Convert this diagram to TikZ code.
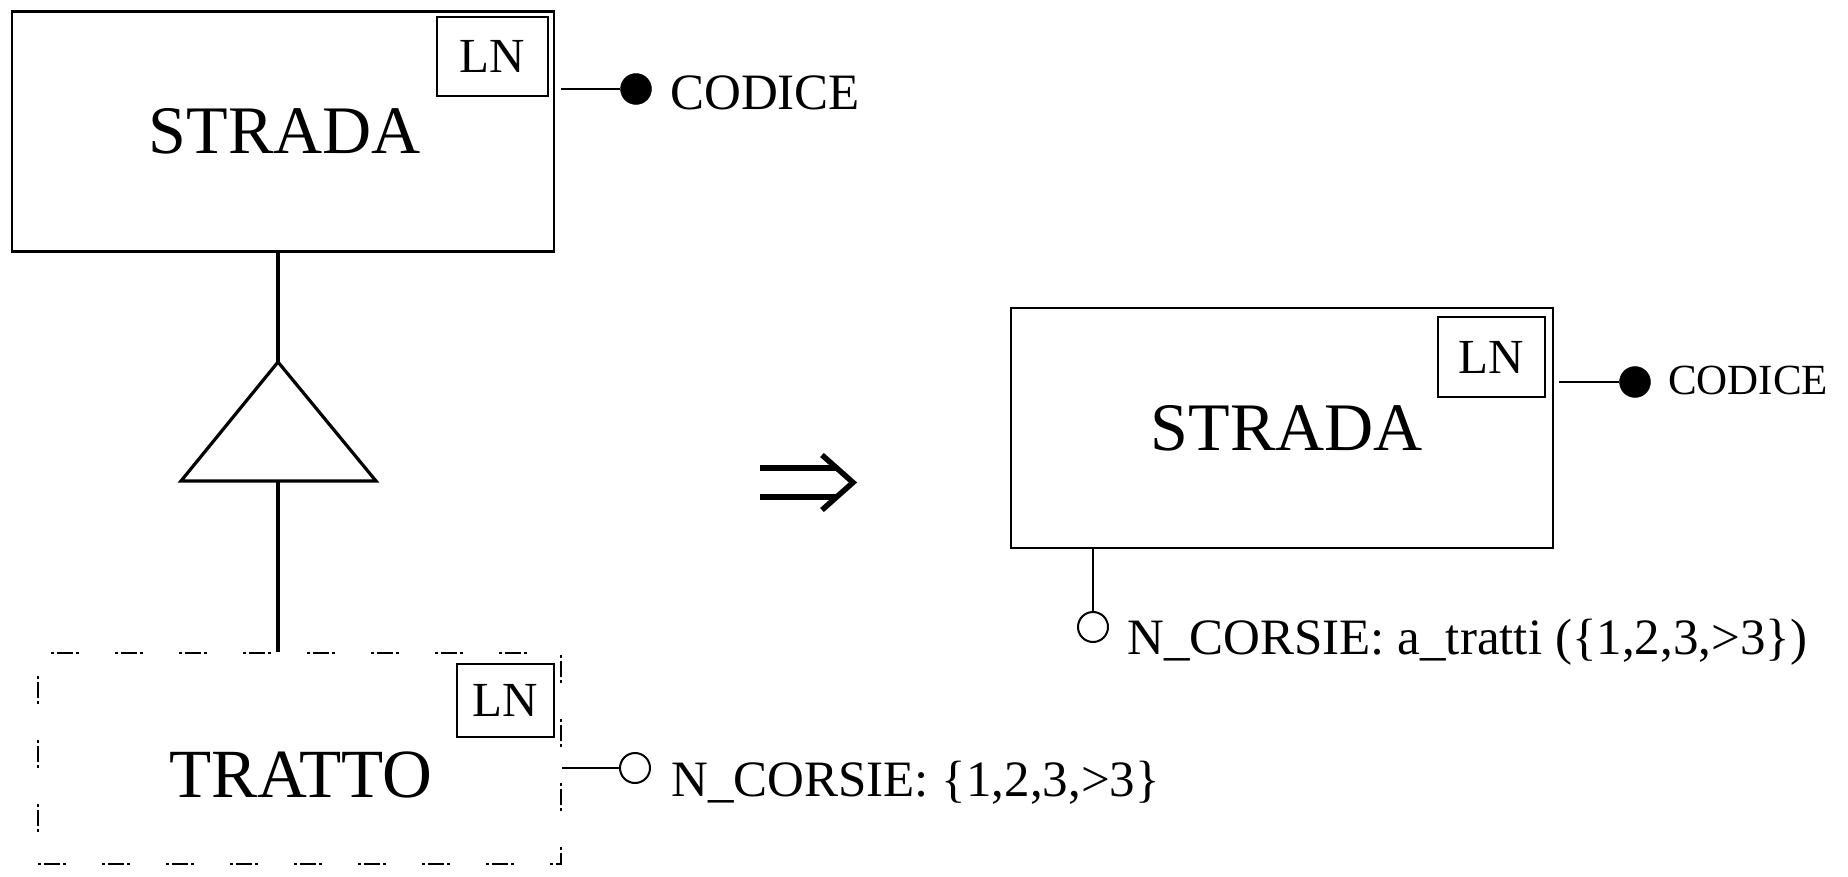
\documentclass[tikz,border=0pt]{standalone}
\usepackage{fontspec}
\setmainfont{Liberation Serif}
\begin{document}
\begin{tikzpicture}[x=1pt,y=-1pt,
  entity/.style={draw=black, line width=2.6pt, minimum width=542pt, minimum height=240pt, inner sep=0pt},
  weak/.style={draw=black, line width=2.6pt, dash pattern=on 3pt off 3pt on 16pt off 3pt on 3pt off 36pt, inner sep=0pt},
  lnbox/.style={draw=black, line width=2pt, inner sep=0pt, font=\fontsize{49}{49}\selectfont},
  bigname/.style={inner sep=0pt, font=\fontsize{68}{68}\selectfont},
  attrtext/.style={inner sep=0pt, anchor=base west, font=\fontsize{51}{51}\selectfont},
  keydot/.style={circle, fill=black, draw=black, minimum size=31pt, inner sep=0pt},
  attrcirc/.style={circle, draw=black, line width=2pt, fill=white, minimum size=30pt, inner sep=0pt},
  conn/.style={draw=black, line width=3.2pt},
  attrline/.style={draw=black, line width=2pt},
  implies/.style={draw=black, line width=5.5pt},
]
\useasboundingbox[fill=white] (0,0) rectangle (1848,877);

% left STRADA
\node[entity] (strada1) at (283,131.5) {};
\node[bigname] (strada1name) at (285,131) {STRADA};
\node[lnbox, minimum width=111pt, minimum height=79pt] (ln1) at (492.5,56.5) {LN};
\node[keydot] (k1) at (636,89) {};
\node[attrtext] (k1name) at (670,110) {CODICE};
\draw[attrline, shorten <=6pt] (strada1.east |- k1) -- (k1);

% generalization triangle
\coordinate (apex) at (278,362);
\coordinate (baseL) at (181,481);
\coordinate (baseR) at (376,481);
\coordinate (basemid) at (278,481);
\draw[conn, line join=miter] (apex) -- (baseR) -- (baseL) -- cycle;
\draw[conn] (apex |- strada1.south) -- (apex);

% TRATTO
\node[weak, minimum width=523pt, minimum height=211pt] (tratto) at (299.5,758.5) {};
\node[bigname, font=\fontsize{69}{69}\selectfont] (trattoname) at (301,775) {TRATTO};
\node[lnbox, minimum width=97pt, minimum height=73pt] (ln2) at (505,700) {LN};
\draw[conn] (basemid) -- (basemid |- tratto.north);
\node[attrcirc] (c1) at (635,768) {};
\node[attrtext] (c1name) at (671,796) {N\_CORSIE: \{1,2,3,>3\}};
\draw[attrline] (tratto.east |- c1) -- (c1);

% implication arrow
\draw[implies] (760,468) -- (836,468) (760,497) -- (836,497);
\draw[implies, line join=miter] (822,455) -- (853,482.5) -- (822,510);

% right STRADA
\node[entity] (strada2) at (1282,428) {};
\node[bigname] (strada2name) at (1287,428) {STRADA};
\node[lnbox, minimum width=107pt, minimum height=80pt] (ln3) at (1491.5,357) {LN};
\node[keydot] (k2) at (1635,382) {};
\node[attrtext, font=\fontsize{43}{43}\selectfont] (k2name) at (1668,395) {CODICE};
\draw[attrline, shorten <=5pt] (strada2.east |- k2) -- (k2);
\node[attrcirc] (c2) at (1093,627) {};
\node[attrtext] (c2name) at (1127,654) {N\_CORSIE: a\_tratti (\{1,2,3,>3\})};
\draw[attrline] (c2 |- strada2.south) -- (c2);
\end{tikzpicture}
\end{document}
